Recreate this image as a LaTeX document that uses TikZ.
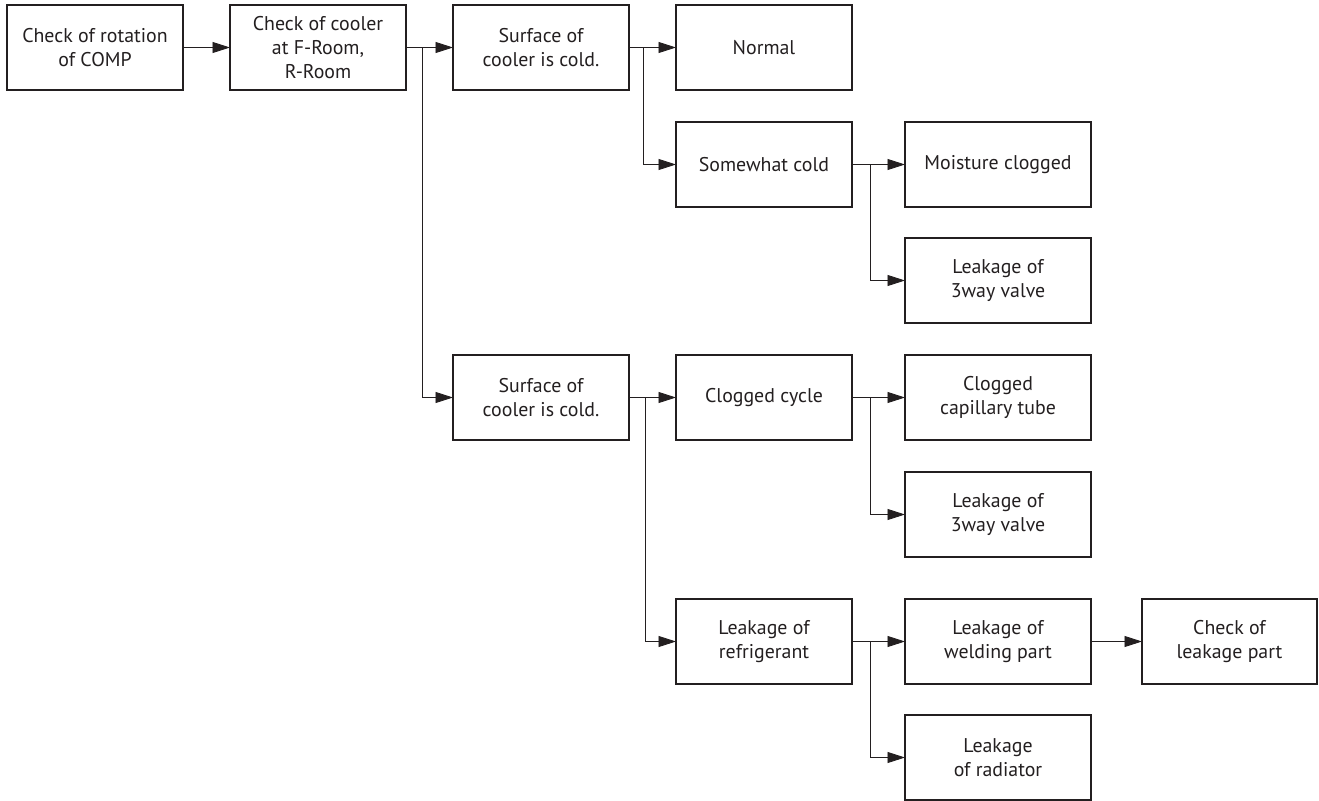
\documentclass[tikz,border=0pt]{standalone}
\usepackage{fontspec}
\setmainfont{PT Sans}
\usepackage{tikz}
\usetikzlibrary{arrows.meta, positioning}
\usepackage{xcolor}
\definecolor{LineDark}{RGB}{35, 31, 32}
\tikzset{
  box/.style={rectangle, draw=#1, line width=0.9pt, fill=white, outer sep=0pt,
              minimum width=3.52cm, minimum height=1.7cm,
              font=\fontsize{11.3}{13.6}\selectfont, text=#1, align=center},
  wbox/.style={box=#1, minimum width=3.72cm},
  arr/.style={-{Triangle[length=0.35cm, width=0.22cm]}, line width=0.5pt, color=#1},
}

\begin{document}
\begin{tikzpicture}
      \useasboundingbox (0,0) rectangle (26.38,-16.02);

      % first row
      \node[box=LineDark] (rot) at (1.9,-0.95) {Check of rotation\\of COMP};
      \node[box=LineDark, right=0.94cm of rot] (cool) {Check of cooler\\at F-Room,\\R-Room};
      \node[box=LineDark, right=0.94cm of cool] (surfa) {Surface of\\cooler is cold.};
      \node[box=LineDark, right=0.94cm of surfa] (norm) {Normal};

      % somewhat cold branch
      \node[box=LineDark, below=0.64cm of norm] (some) {Somewhat cold};
      \node[wbox=LineDark, right=1.06cm of some] (moist) {Moisture clogged};
      \node[wbox=LineDark, below=0.62cm of moist] (valvea) {Leakage of\\3way valve};

      % second surface branch
      \node[box=LineDark, below=5.3cm of surfa] (surfb) {Surface of\\cooler is cold.};
      \node[box=LineDark, right=0.94cm of surfb] (clog) {Clogged cycle};
      \node[wbox=LineDark, right=1.06cm of clog] (capil) {Clogged\\capillary tube};
      \node[wbox=LineDark, below=0.64cm of capil] (valveb) {Leakage of\\3way valve};

      \node[box=LineDark, below=3.18cm of clog] (refr) {Leakage of\\refrigerant};
      \node[wbox=LineDark, right=1.06cm of refr] (weld) {Leakage of\\welding part};
      \node[box=LineDark, minimum width=3.5cm, right=1.02cm of weld] (chk) {Check of\\leakage part};
      \node[wbox=LineDark, below=0.62cm of weld] (rad) {Leakage\\of radiator};

      % junctions
      \coordinate[right=0.32cm of cool.east] (jcool);
      \coordinate[right=0.28cm of surfa.east] (jsurfa);
      \coordinate[right=0.36cm of some.east] (jsome);
      \coordinate[right=0.32cm of surfb.east] (jsurfb);
      \coordinate[right=0.36cm of clog.east] (jclog);
      \coordinate[right=0.36cm of refr.east] (jrefr);

      \draw[arr=LineDark] (rot) -- (cool);
      \draw[arr=LineDark] (cool) -- (surfa);
      \draw[arr=LineDark] (jcool) |- (surfb);
      \draw[arr=LineDark] (surfa) -- (norm);
      \draw[arr=LineDark] (jsurfa) |- (some);
      \draw[arr=LineDark] (some) -- (moist);
      \draw[arr=LineDark] (jsome) |- (valvea);
      \draw[arr=LineDark] (surfb) -- (clog);
      \draw[arr=LineDark] (jsurfb) |- (refr);
      \draw[arr=LineDark] (clog) -- (capil);
      \draw[arr=LineDark] (jclog) |- (valveb);
      \draw[arr=LineDark] (refr) -- (weld);
      \draw[arr=LineDark] (jrefr) |- (rad);
      \draw[arr=LineDark] (weld) -- (chk);
    \end{tikzpicture}
\end{document}
